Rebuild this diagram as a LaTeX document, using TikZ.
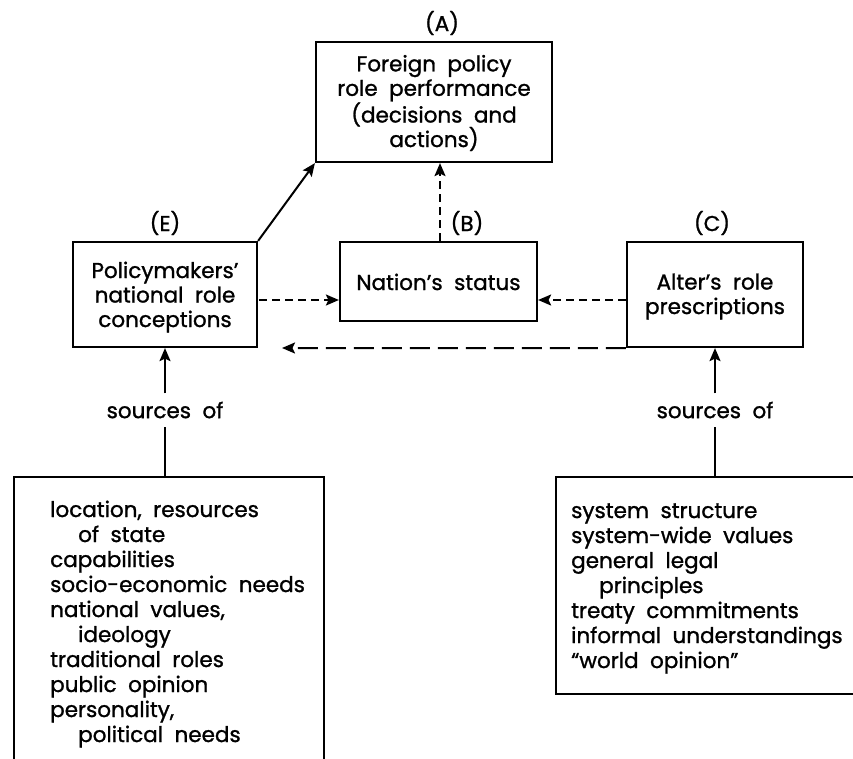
\documentclass[tikz,border=0pt]{standalone}
\usepackage{fontspec}
\setmainfont{Poppins}[WordSpace=2, FakeBold=1.2]
\usetikzlibrary{arrows.meta}
\begin{document}
\begin{tikzpicture}[x=1pt,y=-1pt,
  box/.style={draw, line width=2.2pt, inner sep=0pt},
  txt/.style={font=\fontsize{21.5}{24.5}\selectfont, inner sep=0pt, align=center},
  lst/.style={font=\fontsize{21.5}{25}\selectfont, inner sep=0pt, align=left, anchor=base west},
  tip/.style={-{Stealth[length=13pt,width=11pt,inset=2.5pt]}, line width=2pt},
  shortdash/.style={dash pattern=on 8pt off 5pt},
  longdash/.style={dash pattern=on 20pt off 8pt}]
\useasboundingbox (0,0) rectangle (853,758);
\clip (0,0) rectangle (853,758);
% boxes
\node[box, minimum width=236pt, minimum height=120pt] (A) at (434,102) {};
\node[txt, anchor=base] (At) at (434,147) {Foreign policy\\role performance\\(decisions and\\actions)};
\node[box, minimum width=184pt, minimum height=105pt] (E) at (165,294.5) {};
\node[txt, anchor=base] (Et) at (165,327) {Policymakers'\\national role\\conceptions};
\node[box, minimum width=197pt, minimum height=79pt] (B) at (438.5,281.5) {};
\node[txt, anchor=base] (Bt) at (438.5,290) {Nation's status};
\node[box, minimum width=176pt, minimum height=105pt] (C) at (715,294.5) {};
\node[txt, anchor=base] (Ct) at (715,314) {Alter's role\\prescriptions};
% labels
\node[txt] (la) at (442,23) {(A)};
\node[txt] (le) at (165,223) {(E)};
\node[txt] (lb) at (467,223) {(B)};
\node[txt] (lc) at (712,223) {(C)};
% bottom boxes
\node[box, anchor=north west, minimum width=310pt, minimum height=320pt] (L) at (13,476) {};
\node[box, anchor=north west, minimum width=330pt, minimum height=217pt] (R) at (555,476) {};
\node[lst] (Lt) at (50,742) {location, resources\\\hspace*{28pt}of state\\capabilities\\socio-economic needs\\national values,\\\hspace*{28pt}ideology\\traditional roles\\public opinion\\personality,\\\hspace*{28pt}political needs};
\node[lst] (Rt) at (571,668) {system structure\\system-wide values\\general legal\\\hspace*{28pt}principles\\treaty commitments\\informal understandings\\``world opinion''};
% sources of
\node[txt, inner ysep=8pt] (sE) at (165,410) {sources of};
\node[txt, inner ysep=8pt] (sC) at (715,410) {sources of};
\draw[tip] (sE.north) -- (E.south);
\draw[line width=2pt] (L.north -| sE) -- (sE.south);
\draw[tip] (sC.north) -- (C.south);
\draw[line width=2pt] (R.north -| sC) -- (sC.south);
% connectors
\draw[tip] (E.north east) -- (A.south west);
\draw[tip, shortdash] (B.north -| 440,0) -- (A.south -| 440,0);
\coordinate (eb) at (259,300);
\draw[tip, shortdash] (eb) -- (B.west |- eb);
\draw[tip, shortdash] (C.west |- eb) -- (B.east |- eb);
\coordinate (cend) at (282,348);
\draw[tip, longdash] (C.south west) -- (cend);
\end{tikzpicture}
\end{document}
